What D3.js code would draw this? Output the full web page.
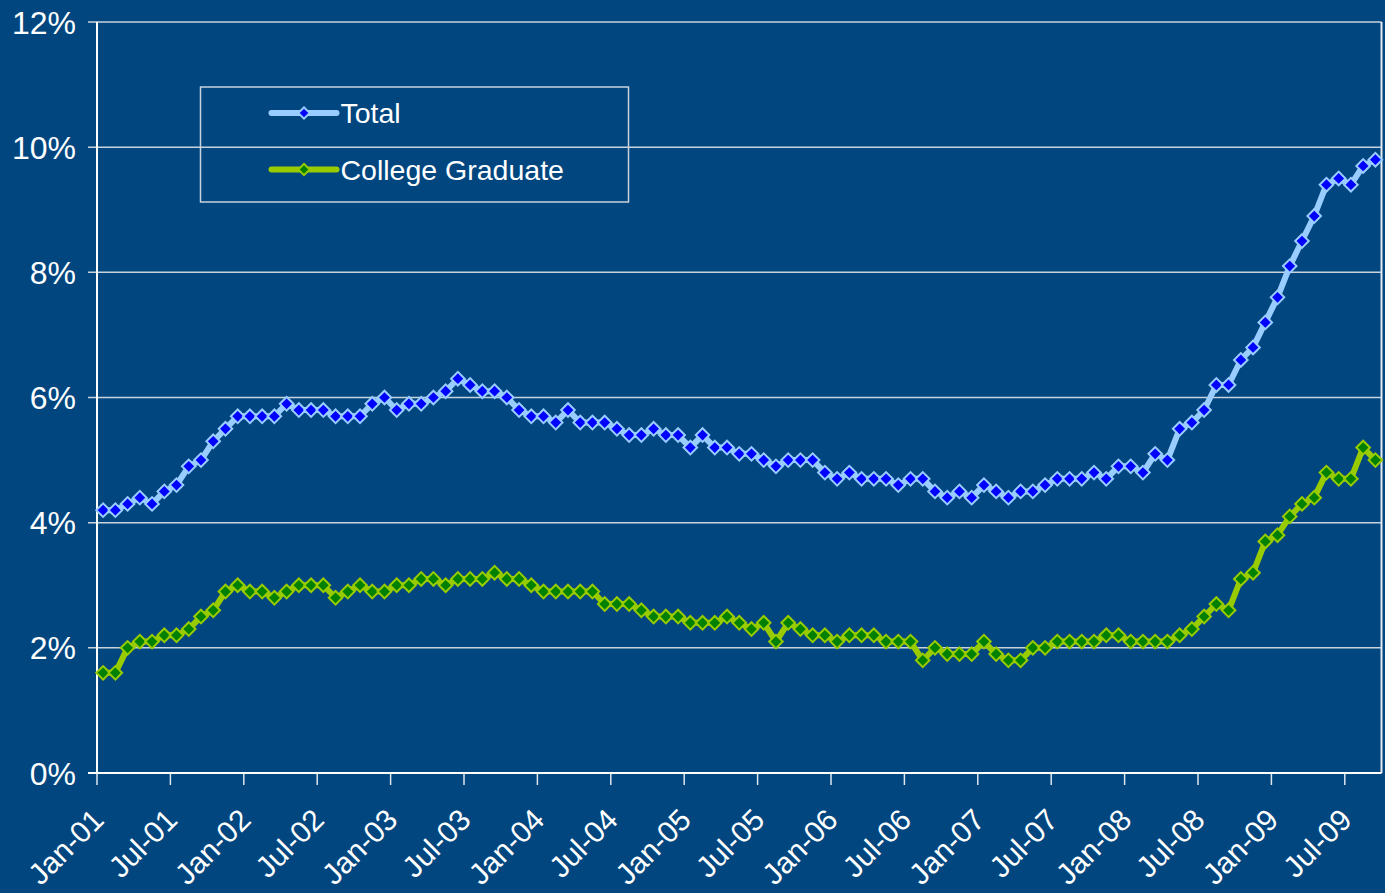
<!DOCTYPE html>
<html>
<head>
<meta charset="utf-8">
<script src="https://cdn.jsdelivr.net/npm/d3@7"></script>
<style>
    html, body { margin: 0; padding: 0; background: #01467f; }
    svg { display: block; font-family: Arial, "Liberation Sans", sans-serif; }
    .grid line { stroke: #c9d3de; stroke-width: 1.5; }
    .tick-lbl { fill: #ffffff; }
</style>
</head>
<body>
<svg id="chart" width="1385" height="893"></svg>
<script>
// monthly categories, Jan 2001 - Sep 2009
const months = d3.timeMonths(new Date(2001, 0, 1), new Date(2009, 9, 1));

// unemployment rate (%)
const total = [
    4.2, 4.2, 4.3, 4.4, 4.3, 4.5, 4.6, 4.9, 5.0, 5.3, 5.5, 5.7,
    5.7, 5.7, 5.7, 5.9, 5.8, 5.8, 5.8, 5.7, 5.7, 5.7, 5.9, 6.0,
    5.8, 5.9, 5.9, 6.0, 6.1, 6.3, 6.2, 6.1, 6.1, 6.0, 5.8, 5.7,
    5.7, 5.6, 5.8, 5.6, 5.6, 5.6, 5.5, 5.4, 5.4, 5.5, 5.4, 5.4,
    5.2, 5.4, 5.2, 5.2, 5.1, 5.1, 5.0, 4.9, 5.0, 5.0, 5.0, 4.8,
    4.7, 4.8, 4.7, 4.7, 4.7, 4.6, 4.7, 4.7, 4.5, 4.4, 4.5, 4.4,
    4.6, 4.5, 4.4, 4.5, 4.5, 4.6, 4.7, 4.7, 4.7, 4.8, 4.7, 4.9,
    4.9, 4.8, 5.1, 5.0, 5.5, 5.6, 5.8, 6.2, 6.2, 6.6, 6.8, 7.2,
    7.6, 8.1, 8.5, 8.9, 9.4, 9.5, 9.4, 9.7, 9.8
];
const college = [
    1.6, 1.6, 2.0, 2.1, 2.1, 2.2, 2.2, 2.3, 2.5, 2.6, 2.9, 3.0,
    2.9, 2.9, 2.8, 2.9, 3.0, 3.0, 3.0, 2.8, 2.9, 3.0, 2.9, 2.9,
    3.0, 3.0, 3.1, 3.1, 3.0, 3.1, 3.1, 3.1, 3.2, 3.1, 3.1, 3.0,
    2.9, 2.9, 2.9, 2.9, 2.9, 2.7, 2.7, 2.7, 2.6, 2.5, 2.5, 2.5,
    2.4, 2.4, 2.4, 2.5, 2.4, 2.3, 2.4, 2.1, 2.4, 2.3, 2.2, 2.2,
    2.1, 2.2, 2.2, 2.2, 2.1, 2.1, 2.1, 1.8, 2.0, 1.9, 1.9, 1.9,
    2.1, 1.9, 1.8, 1.8, 2.0, 2.0, 2.1, 2.1, 2.1, 2.1, 2.2, 2.2,
    2.1, 2.1, 2.1, 2.1, 2.2, 2.3, 2.5, 2.7, 2.6, 3.1, 3.2, 3.7,
    3.8, 4.1, 4.3, 4.4, 4.8, 4.7, 4.7, 5.2, 5.0
];

const xLabels = ["Jan-01", "Jul-01", "Jan-02", "Jul-02", "Jan-03", "Jul-03", "Jan-04", "Jul-04", "Jan-05",
                 "Jul-05", "Jan-06", "Jul-06", "Jan-07", "Jul-07", "Jan-08", "Jul-08", "Jan-09", "Jul-09"];
const yTicks = [0, 2, 4, 6, 8, 10, 12];

const seriesNames = ["Total", "College Graduate"];
const seriesData = [total, college];
const lineColors = ["#99ccff", "#99cc00"];
const markerColors = ["#0000ff", "#008000"];

const svg = d3.select("#chart");
const margin = { top: 22, right: 3.5, bottom: 120, left: 97 };
const width = 1385, height = 893;

const x = d3.scaleBand().domain(d3.range(months.length)).range([margin.left, width - margin.right]).padding(0),
      y = d3.scaleLinear().domain([0, 12]).range([height - margin.bottom, margin.top]);

const cx = i => x(i) + x.bandwidth() / 2;

// gridlines
svg.append("g")
    .classed("grid", true)
    .selectAll("line")
    .data(yTicks.filter(d => d > 0))
    .enter()
    .append("line")
    .attr("x1", margin.left - 9)
    .attr("x2", width - margin.right)
    .attr("y1", d => y(d))
    .attr("y2", d => y(d));

// right border of plot area
svg.append("line")
    .attr("x1", width - margin.right).attr("x2", width - margin.right)
    .attr("y1", y(12)).attr("y2", y(0))
    .attr("stroke", "#e4eaf0").attr("stroke-width", 2);

// y axis labels
svg.append("g")
    .selectAll("text")
    .data(yTicks)
    .enter()
    .append("text")
    .classed("tick-lbl", true)
    .attr("x", 76)
    .attr("y", d => y(d))
    .attr("dy", "0.36em")
    .style("text-anchor", "end")
    .style("font-size", "32px")
    .text(d => d + "%");

// x axis ticks + labels, every 6 months
const tickIdx = d3.range(0, months.length, 6);
svg.append("g")
    .selectAll("line")
    .data(tickIdx)
    .enter()
    .append("line")
    .attr("x1", d => x(d)).attr("x2", d => x(d))
    .attr("y1", y(0)).attr("y2", y(0) + 12)
    .attr("stroke", "#dfe6ee").attr("stroke-width", 1.5);

svg.append("g")
    .selectAll("text")
    .data(tickIdx)
    .enter()
    .append("text")
    .classed("tick-lbl", true)
    .attr("transform", d => `translate(${x(d) + 1}, ${y(0) + 41}) rotate(-45)`)
    .attr("dy", "0.36em")
    .style("text-anchor", "end")
    .style("font-size", "30px")
    .text((d, i) => xLabels[i]);

// axis lines
svg.append("line")
    .attr("x1", margin.left).attr("x2", margin.left)
    .attr("y1", y(12)).attr("y2", y(0))
    .attr("stroke", "#ffffff").attr("stroke-width", 2);
svg.append("line")
    .attr("x1", margin.left - 9).attr("x2", width - margin.right)
    .attr("y1", y(0)).attr("y2", y(0))
    .attr("stroke", "#ffffff").attr("stroke-width", 2);

// series lines + diamond markers
const line = d3.line().x((d, i) => cx(i)).y(d => y(d));
const diamond = d3.symbol(d3.symbolSquare, 92);

const sgs = svg.selectAll("g.series")
    .data(seriesData)
    .enter()
    .append("g")
    .classed("series", true);

sgs.append("path")
    .attr("d", d => line(d))
    .attr("fill", "none")
    .attr("stroke", (d, i) => lineColors[i])
    .attr("stroke-width", 6)
    .attr("stroke-linejoin", "round");

sgs.each(function(d, si) {
    d3.select(this).selectAll("path.marker")
        .data(d)
        .enter()
        .append("path")
        .classed("marker", true)
        .attr("d", diamond)
        .attr("transform", (v, i) => `translate(${cx(i)}, ${y(v)}) rotate(45)`)
        .attr("fill", markerColors[si])
        .attr("stroke", lineColors[si])
        .attr("stroke-width", 2);
});

// legend
const lg = svg.append("g").attr("transform", "translate(200.5, 87)");
lg.append("rect")
    .attr("width", 428)
    .attr("height", 115)
    .attr("fill", "none")
    .attr("stroke", "#c9d3de")
    .attr("stroke-width", 1.5);

const items = lg.selectAll("g.item")
    .data(seriesNames)
    .enter()
    .append("g")
    .classed("item", true)
    .attr("transform", (d, i) => `translate(0, ${26 + i * 56.5})`);

items.append("line")
    .attr("x1", 71).attr("x2", 136)
    .attr("stroke", (d, i) => lineColors[i])
    .attr("stroke-width", 6)
    .attr("stroke-linecap", "round");

items.append("path")
    .attr("d", d3.symbol(d3.symbolSquare, 64))
    .attr("transform", "translate(103.5, 0) rotate(45)")
    .attr("fill", (d, i) => markerColors[i])
    .attr("stroke", (d, i) => lineColors[i])
    .attr("stroke-width", 2);

items.append("text")
    .attr("x", 140)
    .attr("dy", "0.36em")
    .attr("fill", "#ffffff")
    .style("font-size", "28.5px")
    .text(d => d);
</script>
</body>
</html>
